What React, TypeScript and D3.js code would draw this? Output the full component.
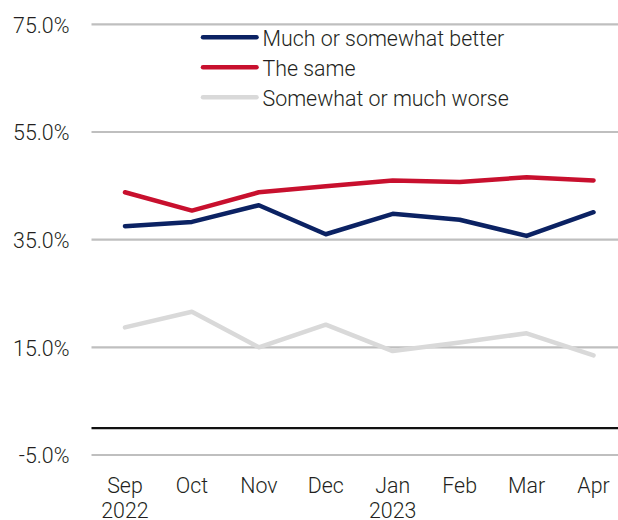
import React from "react";
import * as d3 from "d3";

const months = ["Sep", "Oct", "Nov", "Dec", "Jan", "Feb", "Mar", "Apr"];
const years = ["2022", "", "", "", "2023", "", "", ""];
const better = [37.5, 38.3, 41.4, 36.0, 39.8, 38.7, 35.7, 40.1];
const same = [43.8, 40.4, 43.8, 44.9, 46.0, 45.7, 46.6, 46.0];
const worse = [18.7, 21.6, 15.0, 19.2, 14.3, 15.9, 17.6, 13.5];
const yTicks = [-5, 15, 35, 55, 75];

const seriesNames = ["Much or somewhat better", "The same", "Somewhat or much worse"];
const seriesColors = ["#0b2263", "#c8102e", "#d9d9d9"];
const seriesData = [better, same, worse];

const W = 618;
const H = 520;
const FONT = "Roboto, 'Noto Sans', sans-serif";
const FS = 23;
const SX = 0.93;
const TEXT = "#231f20";

export default function App() {
  const x = d3.scaleBand<string>().domain(months).range([91.5, 627]).padding(0);
  const cx = (m: string) => (x(m) as number) + x.bandwidth() / 2;
  const y = d3.scaleLinear().domain([-5, 75]).range([455, 24.3]);
  const fmt = (v: number) => d3.format(".1f")(v).replace("\u2212", "-") + "%";
  const line = d3
    .line<number>()
    .x((_, i) => cx(months[i]))
    .y((d) => y(d));

  const txt = (
    key: string,
    tx: number,
    ty: number,
    s: string,
    anchor: "start" | "middle" | "end"
  ) => (
    <text
      key={key}
      transform={`translate(${tx},${ty}) scale(${SX},1)`}
      textAnchor={anchor}
      fontFamily={FONT}
      fontWeight={300}
      fontSize={FS}
      fill={TEXT}
    >
      {s}
    </text>
  );

  return (
    <svg
      width={W}
      height={H}
      style={{ position: "absolute", left: 0, top: 0, background: "#fff" }}
    >
      {yTicks.map((t) => (
        <line
          key={"g" + t}
          x1={91.5}
          x2={W}
          y1={y(t)}
          y2={y(t)}
          stroke="#bfbfbf"
          strokeWidth={2.2}
        />
      ))}
      <line x1={91.5} x2={W} y1={y(0)} y2={y(0)} stroke="#111" strokeWidth={2.2} />
      {yTicks.map((t) => txt("yl" + t, 69.5, y(t) + 8.3, fmt(t), "end"))}
      {months.map((m) => txt("m" + m, cx(m), 492.7, m, "middle"))}
      {months.map((m, i) =>
        years[i] ? txt("yr" + m, cx(m), 517.5, years[i], "middle") : null
      )}
      {seriesData
        .map((d, i) => ({ d, i }))
        .reverse()
        .map(({ d, i }) => (
          <path
            key={"s" + i}
            d={line(d) as string}
            fill="none"
            stroke={seriesColors[i]}
            strokeWidth={4.5}
            strokeLinejoin="round"
            strokeLinecap="round"
          />
        ))}
      {seriesNames.map((n, i) => (
        <g key={"lg" + i}>
          <line
            x1={203}
            x2={256.5}
            y1={37.3 + i * 30}
            y2={37.3 + i * 30}
            stroke={seriesColors[i]}
            strokeWidth={4.5}
            strokeLinecap="round"
          />
          {txt("lt" + i, 262.5, 37.3 + i * 30 + 8.4, n, "start")}
        </g>
      ))}
    </svg>
  );
}
